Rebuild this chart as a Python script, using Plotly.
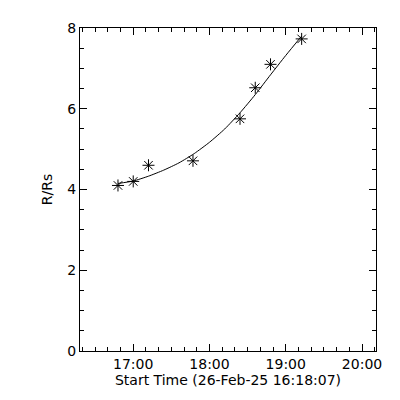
import plotly.graph_objects as go

# Measured points (time, R/Rs)
obs_times = ["2025-02-26 16:48:00", "2025-02-26 17:00:00", "2025-02-26 17:12:00",
             "2025-02-26 17:47:00", "2025-02-26 18:24:00", "2025-02-26 18:36:00",
             "2025-02-26 18:48:00", "2025-02-26 19:12:30"]
obs_r = [4.10, 4.20, 4.60, 4.71, 5.75, 6.52, 7.10, 7.73]

# Fitted curve
fit_times = ["2025-02-26 16:48:00", "2025-02-26 17:00:00", "2025-02-26 17:12:00",
             "2025-02-26 17:24:00", "2025-02-26 17:36:00", "2025-02-26 17:48:00",
             "2025-02-26 18:00:00", "2025-02-26 18:12:00", "2025-02-26 18:24:00",
             "2025-02-26 18:36:00", "2025-02-26 18:48:00", "2025-02-26 19:00:00",
             "2025-02-26 19:12:30"]
fit_r = [4.15, 4.21, 4.33, 4.48, 4.66, 4.89, 5.17, 5.50, 5.90, 6.35, 6.84, 7.32, 7.80]

x_range = ["2025-02-26 16:18:07", "2025-02-26 20:11:00"]
y_range = [0, 8]
x_title = "Start Time (26-Feb-25 16:18:07)"
y_title = "R/Rs"

font = dict(family="DejaVu Sans", size=14, color="black")

fig = go.Figure()
fig.add_trace(go.Scatter(x=fit_times, y=fit_r, mode="lines",
                         line=dict(color="black", width=1, shape="spline", smoothing=0.6),
                         showlegend=False))
fig.add_trace(go.Scatter(x=obs_times, y=obs_r, mode="markers",
                         marker=dict(symbol="asterisk-open", size=10,
                                     line=dict(color="black", width=1), color="black"),
                         showlegend=False))

fig.update_layout(
    width=400, height=400,
    margin=dict(l=72, r=32, t=15, b=57),
    paper_bgcolor="white", plot_bgcolor="white",
    font=font,
    xaxis=dict(type="date", range=x_range, showgrid=False, zeroline=False,
               showline=True, linecolor="black", linewidth=1, mirror="ticks",
               ticks="inside", ticklen=7, tickcolor="black", tickwidth=1,
               tick0="2025-02-26 17:00:00", dtick=3600000, tickformat="%H:%M",
               minor=dict(ticks="inside", ticklen=4, dtick=600000,
                          tick0="2025-02-26 17:00:00", tickcolor="black", showgrid=False),
               title=dict(text=x_title, standoff=4, font=font),
               tickfont=font),
    yaxis=dict(range=y_range, showgrid=False, zeroline=False,
               showline=True, linecolor="black", linewidth=1, mirror="ticks",
               ticks="inside", ticklen=7, tickcolor="black", tickwidth=1,
               tick0=0, dtick=2,
               minor=dict(ticks="inside", ticklen=4, dtick=0.5, tickcolor="black",
                          showgrid=False),
               title=dict(text=y_title, standoff=11, font=font),
               tickfont=font),
)

fig.write_html("out.html")
